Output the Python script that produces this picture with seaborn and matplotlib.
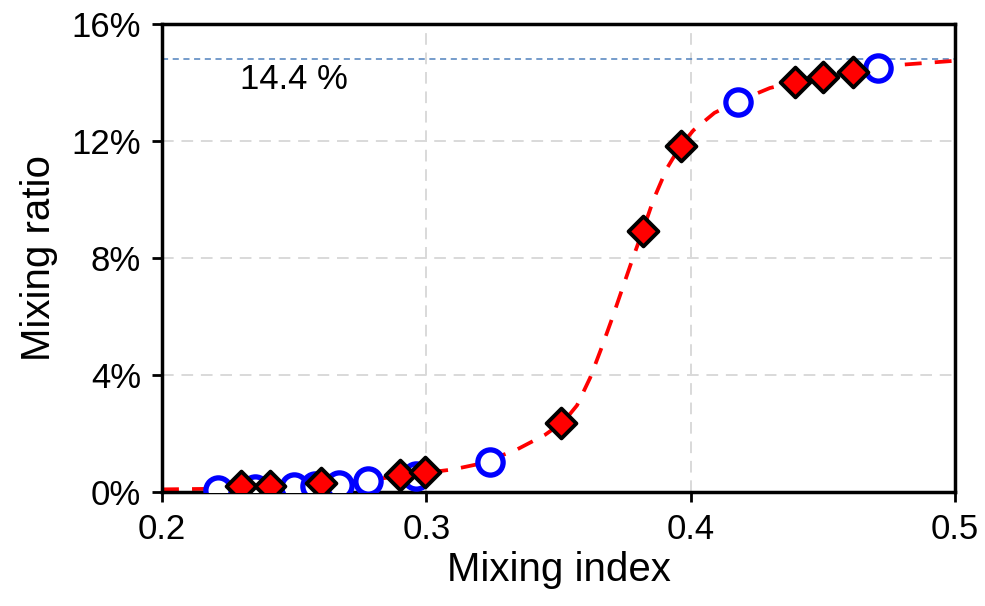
import matplotlib
matplotlib.use("Agg")
import matplotlib.pyplot as plt
import seaborn as sns
import pandas as pd
from matplotlib.ticker import PercentFormatter

# fitted curve (mixing index, mixing ratio in %)
curve_x = [0.200, 0.220, 0.240, 0.260, 0.280, 0.300, 0.310, 0.320, 0.334, 0.345,
           0.352, 0.357, 0.362, 0.366, 0.370, 0.374, 0.378, 0.382, 0.386, 0.391,
           0.396, 0.401, 0.409, 0.418, 0.430, 0.440, 0.450, 0.461, 0.479, 0.500]
curve_y = [0.08, 0.10, 0.16, 0.27, 0.42, 0.65, 0.76, 0.95, 1.43, 1.95,
           2.40, 2.95, 3.90, 4.85, 5.85, 6.90, 7.95, 8.95, 10.00, 11.05,
           11.80, 12.35, 12.95, 13.35, 13.80, 14.02, 14.20, 14.36, 14.59, 14.73]

# open circles
circle_x = [0.221, 0.235, 0.250, 0.258, 0.267, 0.278, 0.296, 0.324, 0.418, 0.471]
circle_y = [0.06, 0.10, 0.15, 0.20, 0.22, 0.38, 0.55, 1.02, 13.33, 14.50]

# red diamonds
diamond_x = [0.230, 0.241, 0.260, 0.290, 0.2995, 0.351, 0.382, 0.3964, 0.4395, 0.450, 0.4613]
diamond_y = [0.19, 0.19, 0.30, 0.57, 0.68, 2.34, 8.91, 11.82, 14.02, 14.17, 14.34]

plateau = 14.8
plateau_label = "14.4 %"

sns.set_style("ticks")
plt.rcParams['font.family'] = ['Liberation Sans', 'DejaVu Sans']
plt.rcParams['text.color'] = 'black'
plt.rcParams['axes.labelcolor'] = 'black'
plt.rcParams['xtick.color'] = 'black'
plt.rcParams['ytick.color'] = 'black'

fig = plt.figure(figsize=(9.85, 6.06), dpi=100)
ax = fig.add_axes([0.1645, 0.1886, 0.805, 0.7724])

curve = pd.DataFrame({"x": curve_x, "y": curve_y})
circles = pd.DataFrame({"x": circle_x, "y": circle_y})
diamonds = pd.DataFrame({"x": diamond_x, "y": diamond_y})

ax.grid(True, color="#d9d9d9", linestyle=(0, (6, 4)), linewidth=1.4, zorder=0)
ax.axhline(plateau, color="#4f81bd", linestyle=(0, (4, 3)), linewidth=1.1, zorder=1)

sns.lineplot(data=curve, x="x", y="y", ax=ax, color="red", linewidth=2.7,
             linestyle=(0, (4.5, 3.5)), zorder=2, sort=False)
sns.scatterplot(data=circles, x="x", y="y", ax=ax, marker="o", s=330,
                facecolor="white", edgecolor="blue", linewidth=3.8, zorder=3)
sns.scatterplot(data=diamonds, x="x", y="y", ax=ax, marker="D", s=230,
                color="red", edgecolor="black", linewidth=2.8, zorder=4)

ax.text(0.2295, 14.1, plateau_label, fontsize=25, va="center", ha="left")

ax.set_xlim(0.2, 0.5)
ax.set_ylim(0, 16)
ax.set_xticks([0.2, 0.3, 0.4, 0.5])
ax.set_xticklabels(["0.2", "0.3", "0.4", "0.5"])
ax.set_yticks([0, 4, 8, 12, 16])
ax.yaxis.set_major_formatter(PercentFormatter(decimals=0))
ax.tick_params(labelsize=25, width=2, length=7, direction="out", color="black", pad=8)

ax.set_xlabel("Mixing index", fontsize=29, labelpad=4)
ax.set_ylabel("Mixing ratio", fontsize=29, labelpad=10)

for sp in ax.spines.values():
    sp.set_visible(True)
    sp.set_color("black")
    sp.set_linewidth(2.5)

fig.savefig("out.png", dpi=100)
